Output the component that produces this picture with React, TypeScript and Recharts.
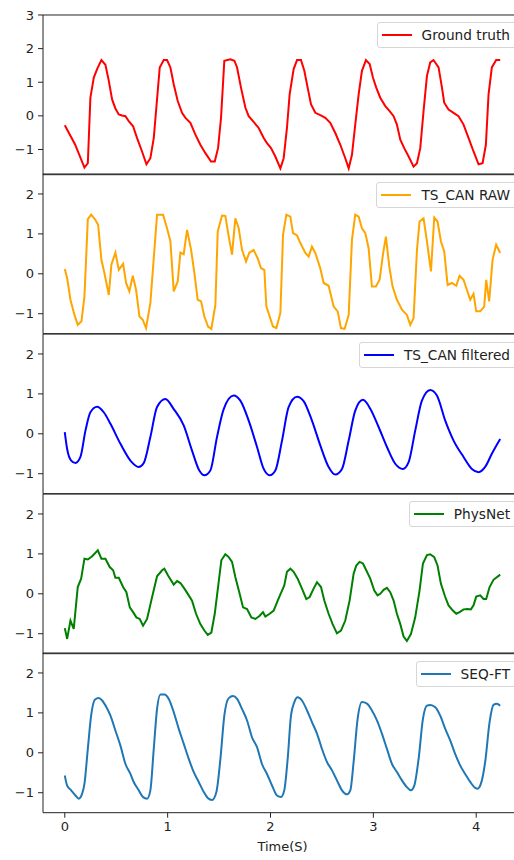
import React from 'react';
import { LineChart, Line, XAxis, YAxis, ReferenceArea, Legend } from 'recharts';

// time axis (s), 0 .. 4.233 with 5% margins
const T_MIN = -0.2117;
const T_MAX = 4.445;
const timeTicks = [0, 1, 2, 3, 4];

const groundTruth: number[][] = [
  [0, -0.28], [0.1, -0.85], [0.191, -1.54], [0.224, -1.41], [0.249, 0.54], [0.282, 1.14], [0.314, 1.39], [0.356, 1.66],
  [0.395, 1.52], [0.428, 1.04], [0.46, 0.49], [0.492, 0.22], [0.525, 0.04], [0.557, 0.01], [0.59, -0.01],
  [0.622, -0.16], [0.664, -0.31], [0.703, -0.66], [0.751, -1.06], [0.794, -1.44], [0.832, -1.26], [0.865, -0.66],
  [0.923, 1.44], [0.962, 1.66], [0.994, 1.66], [1.027, 1.44], [1.059, 0.94], [1.098, 0.44], [1.14, 0.09],
  [1.173, -0.06], [1.221, -0.21], [1.27, -0.56], [1.318, -0.86], [1.367, -1.11], [1.422, -1.36], [1.458, -1.36],
  [1.49, -0.96], [1.519, -0.06], [1.551, 1.64], [1.61, 1.68], [1.649, 1.64], [1.675, 1.44], [1.713, 0.84],
  [1.756, 0.24], [1.788, -0.01], [1.836, -0.18], [1.885, -0.36], [1.934, -0.66], [1.966, -0.81], [2.005, -0.96],
  [2.047, -1.21], [2.096, -1.56], [2.128, -1.26], [2.16, -0.36], [2.186, 0.64], [2.225, 1.39], [2.258, 1.66],
  [2.296, 1.66], [2.329, 1.34], [2.361, 0.84], [2.394, 0.34], [2.436, 0.09], [2.484, 0.02], [2.533, -0.06],
  [2.581, -0.21], [2.63, -0.51], [2.679, -0.86], [2.727, -1.26], [2.76, -1.56], [2.792, -1.16], [2.824, -0.26],
  [2.857, 0.64], [2.889, 1.34], [2.928, 1.66], [2.964, 1.54], [2.996, 1.14], [3.028, 0.84], [3.067, 0.54],
  [3.116, 0.29], [3.158, 0.14], [3.197, -0.01], [3.229, -0.26], [3.262, -0.71], [3.3, -0.96], [3.343, -1.21],
  [3.391, -1.51], [3.424, -1.41], [3.456, -0.96], [3.488, 0.14], [3.521, 1.19], [3.553, 1.59], [3.585, 1.66],
  [3.634, 1.44], [3.667, 0.84], [3.689, 0.39], [3.731, 0.19], [3.78, 0.09], [3.828, -0.01], [3.877, -0.26],
  [3.926, -0.66], [3.974, -1.06], [4.023, -1.44], [4.062, -1.41], [4.094, -0.86], [4.12, 0.64], [4.152, 1.44],
  [4.194, 1.66], [4.233, 1.66],
];

const tsCanRaw: number[][] = [
  [0, 0.12], [0.023, -0.11], [0.055, -0.65], [0.094, -1.03], [0.126, -1.28], [0.162, -1.19], [0.191, -0.57],
  [0.224, 1.37], [0.256, 1.48], [0.292, 1.37], [0.324, 1.23], [0.356, 0.35], [0.385, 0.02], [0.428, -0.53],
  [0.453, 0.23], [0.492, 0.53], [0.525, 0.1], [0.567, 0.25], [0.596, -0.23], [0.628, -0.44], [0.661, -0.05],
  [0.693, -0.4], [0.726, -1.07], [0.758, -1.15], [0.79, -1.36], [0.832, -0.73], [0.897, 1.48], [0.956, 1.48],
  [0.994, 1.14], [1.027, 0.81], [1.059, -0.44], [1.098, -0.19], [1.124, 0.53], [1.156, 0.49], [1.189, 1.1],
  [1.228, 0.6], [1.26, 0.02], [1.292, -0.65], [1.325, -0.69], [1.357, -1.07], [1.393, -1.32], [1.425, -1.38],
  [1.464, -0.78], [1.487, 1.06], [1.529, 1.46], [1.561, 1.45], [1.594, 0.93], [1.626, 0.48], [1.658, 1.39],
  [1.691, 1.14], [1.723, 0.6], [1.762, 0.31], [1.794, 0.53], [1.836, 0.6], [1.875, 0.39], [1.908, 0.14],
  [1.94, 0.1], [1.96, -0.82], [1.992, -1.07], [2.024, -1.32], [2.057, -1.36], [2.096, -0.98], [2.122, 0.98],
  [2.154, 1.48], [2.193, 1.43], [2.219, 1.02], [2.258, 0.96], [2.29, 0.77], [2.339, 0.52], [2.371, 0.43],
  [2.403, 0.68], [2.436, 0.52], [2.484, 0.14], [2.517, -0.23], [2.565, -0.3], [2.614, -0.82], [2.653, -0.94],
  [2.685, -1.36], [2.721, -1.38], [2.76, -1.03], [2.792, 0.85], [2.824, 1.48], [2.857, 1.43], [2.889, 1.14],
  [2.922, 1.02], [2.954, 0.64], [2.986, -0.32], [3.025, -0.32], [3.061, -0.15], [3.093, 0.48], [3.122, 0.93],
  [3.155, 0.18], [3.187, -0.32], [3.229, -0.65], [3.278, -0.9], [3.326, -1.03], [3.359, -1.28], [3.391, -1.11],
  [3.424, 0.6], [3.449, 1.31], [3.488, 1.39], [3.521, 0.81], [3.56, 0.06], [3.592, 1.41], [3.624, 1.31],
  [3.657, 0.81], [3.689, 0.56], [3.722, -0.28], [3.764, -0.23], [3.806, -0.3], [3.838, -0.05], [3.877, -0.15],
  [3.909, -0.4], [3.942, -0.65], [3.974, -0.5], [4.0, -0.94], [4.039, -0.94], [4.078, -0.82], [4.097, -0.15],
  [4.126, -0.69], [4.159, 0.35], [4.194, 0.73], [4.233, 0.52],
];

const tsCanFiltered: number[][] = [
  [0, 0.04], [0.023, -0.38], [0.062, -0.67], [0.104, -0.73], [0.152, -0.58], [0.201, 0.08], [0.249, 0.54],
  [0.314, 0.68], [0.379, 0.54], [0.444, 0.25], [0.541, -0.25], [0.638, -0.67], [0.719, -0.83], [0.768, -0.73],
  [0.832, -0.08], [0.897, 0.67], [0.978, 0.87], [1.059, 0.62], [1.156, 0.21], [1.237, -0.42], [1.308, -0.92],
  [1.357, -1.04], [1.415, -0.92], [1.48, -0.08], [1.545, 0.62], [1.642, 0.96], [1.707, 0.83], [1.788, 0.33],
  [1.869, -0.33], [1.934, -0.88], [1.992, -1.04], [2.047, -0.92], [2.112, -0.17], [2.176, 0.67], [2.258, 0.93],
  [2.322, 0.82], [2.403, 0.33], [2.484, -0.29], [2.565, -0.83], [2.63, -1.02], [2.695, -0.88], [2.76, -0.17],
  [2.824, 0.58], [2.899, 0.85], [2.97, 0.63], [3.051, 0.17], [3.132, -0.33], [3.213, -0.75], [3.287, -0.88],
  [3.343, -0.71], [3.407, 0.08], [3.472, 0.83], [3.553, 1.1], [3.618, 0.96], [3.699, 0.33], [3.78, -0.17],
  [3.877, -0.58], [3.958, -0.88], [4.023, -0.96], [4.087, -0.83], [4.152, -0.5], [4.233, -0.13],
];

const physNet: number[][] = [
  [0, -0.86], [0.023, -1.13], [0.055, -0.67], [0.087, -0.88], [0.126, 0.17], [0.159, 0.38], [0.191, 0.88],
  [0.224, 0.86], [0.266, 0.94], [0.321, 1.09], [0.356, 0.88], [0.395, 0.88], [0.437, 0.67], [0.47, 0.59],
  [0.492, 0.4], [0.525, 0.4], [0.567, 0.17], [0.599, 0.04], [0.632, -0.34], [0.664, -0.46], [0.696, -0.59],
  [0.729, -0.63], [0.761, -0.8], [0.8, -0.63], [0.849, -0.08], [0.897, 0.44], [0.946, 0.59], [0.968, 0.63],
  [1.004, 0.46], [1.059, 0.23], [1.092, 0.32], [1.124, 0.27], [1.163, 0.13], [1.205, -0.04], [1.237, -0.17],
  [1.276, -0.5], [1.318, -0.76], [1.357, -0.92], [1.39, -1.03], [1.425, -0.97], [1.458, -0.5], [1.496, 0.29],
  [1.522, 0.84], [1.561, 0.99], [1.594, 0.92], [1.626, 0.8], [1.658, 0.42], [1.7, 0.0], [1.733, -0.34],
  [1.772, -0.38], [1.814, -0.59], [1.853, -0.63], [1.895, -0.55], [1.927, -0.46], [1.95, -0.57], [1.992, -0.5],
  [2.031, -0.42], [2.07, -0.17], [2.112, 0.08], [2.134, 0.21], [2.16, 0.55], [2.193, 0.63], [2.225, 0.55],
  [2.264, 0.38], [2.306, 0.13], [2.348, -0.13], [2.381, -0.08], [2.419, 0.13], [2.452, 0.29], [2.491, 0.17],
  [2.523, -0.17], [2.565, -0.5], [2.604, -0.76], [2.646, -0.99], [2.685, -0.92], [2.727, -0.67], [2.769, -0.17],
  [2.808, 0.5], [2.834, 0.71], [2.866, 0.8], [2.899, 0.76], [2.931, 0.59], [2.97, 0.38], [3.009, 0.08],
  [3.041, -0.04], [3.067, 0.0], [3.1, 0.1], [3.132, 0.15], [3.164, 0.04], [3.197, -0.17], [3.229, -0.5],
  [3.262, -0.76], [3.294, -1.07], [3.326, -1.18], [3.365, -1.01], [3.407, -0.59], [3.449, 0.08], [3.482, 0.76],
  [3.521, 0.97], [3.553, 0.99], [3.592, 0.92], [3.624, 0.71], [3.657, 0.25], [3.699, -0.08], [3.731, -0.29],
  [3.773, -0.42], [3.806, -0.5], [3.838, -0.46], [3.877, -0.39], [3.916, -0.38], [3.948, -0.39], [3.974, -0.29],
  [4.0, -0.07], [4.039, -0.04], [4.071, -0.13], [4.097, -0.13], [4.13, 0.17], [4.168, 0.35], [4.233, 0.48],
];

const seqFt: number[][] = [
  [0, -0.57], [0.023, -0.82], [0.062, -0.94], [0.104, -1.07], [0.136, -1.15], [0.168, -1.03], [0.191, -0.78],
  [0.224, 0.1], [0.256, 0.93], [0.292, 1.33], [0.33, 1.37], [0.363, 1.31], [0.405, 1.14], [0.444, 0.93],
  [0.492, 0.56], [0.541, 0.18], [0.59, -0.28], [0.638, -0.53], [0.67, -0.73], [0.719, -0.94], [0.761, -1.11],
  [0.8, -1.15], [0.832, -0.94], [0.865, 0.1], [0.897, 1.1], [0.93, 1.46], [0.968, 1.46], [1.011, 1.35],
  [1.059, 1.02], [1.108, 0.6], [1.156, 0.23], [1.205, -0.15], [1.253, -0.48], [1.302, -0.73], [1.351, -0.98],
  [1.39, -1.13], [1.432, -1.18], [1.474, -0.98], [1.513, -0.15], [1.551, 0.93], [1.594, 1.37], [1.636, 1.42],
  [1.675, 1.35], [1.723, 1.1], [1.772, 0.81], [1.82, 0.39], [1.869, 0.14], [1.917, -0.28], [1.966, -0.53],
  [2.015, -0.82], [2.063, -1.07], [2.102, -1.11], [2.134, -0.94], [2.167, -0.15], [2.199, 0.93], [2.232, 1.27],
  [2.264, 1.39], [2.306, 1.31], [2.355, 1.06], [2.403, 0.77], [2.452, 0.48], [2.5, 0.1], [2.549, -0.23],
  [2.598, -0.44], [2.646, -0.69], [2.695, -0.94], [2.743, -1.04], [2.776, -0.94], [2.808, -0.23], [2.847, 0.85],
  [2.889, 1.27], [2.938, 1.23], [2.986, 1.06], [3.035, 0.81], [3.083, 0.48], [3.132, 0.1], [3.181, -0.28],
  [3.229, -0.48], [3.278, -0.69], [3.326, -0.86], [3.365, -0.94], [3.398, -0.82], [3.44, -0.15], [3.482, 0.85],
  [3.521, 1.18], [3.553, 1.2], [3.602, 1.14], [3.65, 0.93], [3.699, 0.6], [3.747, 0.31], [3.796, -0.03],
  [3.845, -0.32], [3.893, -0.53], [3.942, -0.73], [3.99, -0.88], [4.013, -0.9], [4.045, -0.78], [4.087, -0.23],
  [4.13, 0.77], [4.168, 1.2], [4.201, 1.23], [4.233, 1.18],
];

const topTicks = [-1, 0, 1, 2, 3];
const lowerTicks = [-1, 0, 1, 2];

const FONT = 'DejaVu Sans';
const W = 540;
const PLOT_H = 159.7;
const PAD_TOP = 10;
const panelTops = [14.5, 174.2, 333.9, 493.6, 653.3];

const panels = [
  { name: 'Ground truth', data: groundTruth, color: '#ff0000', domain: [-1.75, 3], ticks: topTicks, curve: 'linear' },
  { name: 'TS_CAN RAW', data: tsCanRaw, color: '#ffa500', domain: [-1.5, 2.5], ticks: lowerTicks, curve: 'linear' },
  { name: 'TS_CAN filtered', data: tsCanFiltered, color: '#0000ff', domain: [-1.5, 2.5], ticks: lowerTicks, curve: 'monotone' },
  { name: 'PhysNet', data: physNet, color: '#008000', domain: [-1.5, 2.5], ticks: lowerTicks, curve: 'linear' },
  { name: 'SEQ-FT', data: seqFt, color: '#1f77b4', domain: [-1.5, 2.5], ticks: lowerTicks, curve: 'monotone' },
];

const fmt = (v: number) => (v < 0 ? '\u2212' + Math.abs(v) : String(v));

const tickStyle = { fontSize: 13, fontFamily: FONT, fill: '#222' };

const LegendBox = ({ name, color }: { name: string; color: string }) => (
  <div
    style={{
      display: 'flex',
      alignItems: 'center',
      height: 24,
      padding: '0 6px 0 4px',
      border: '1px solid #d6d6d6',
      borderRadius: 3,
      background: 'rgba(255,255,255,0.8)',
      fontFamily: FONT,
      fontSize: 13.7,
      color: '#222',
      whiteSpace: 'nowrap',
    }}
  >
    <span style={{ display: 'inline-block', width: 30, height: 2, background: color, marginRight: 10 }} />
    <span>{name}</span>
  </div>
);

const App = () => {
  return (
    <div style={{ position: 'absolute', left: 0, top: 0, width: 514, height: 860, overflow: 'hidden', background: '#fff' }}>
      {panels.map((p, i) => {
        const last = i === panels.length - 1;
        const xAxisH = last ? 40 : 0;
        const bottom = last ? 0 : 5;
        const rows = p.data.map(([t, v]) => ({ t, v }));
        return (
          <div key={p.name} style={{ position: 'absolute', left: 0, top: panelTops[i] - PAD_TOP }}>
            <LineChart
              width={W}
              height={PAD_TOP + PLOT_H + xAxisH + bottom}
              data={rows}
              margin={{ top: PAD_TOP, right: 18, bottom, left: 0 }}
            >
              <XAxis
                dataKey="t"
                type="number"
                domain={[T_MIN, T_MAX]}
                allowDataOverflow
                ticks={timeTicks}
                interval={0}
                hide={!last}
                height={xAxisH}
                axisLine={false}
                tickSize={5}
                tickMargin={4}
                tickLine={{ stroke: '#222' }}
                tick={tickStyle}
                label={last ? { value: 'Time(S)', position: 'insideBottom', offset: 2, style: tickStyle } : undefined}
              />
              <YAxis
                type="number"
                domain={p.domain}
                allowDataOverflow
                ticks={p.ticks}
                interval={0}
                width={43}
                axisLine={false}
                tickSize={5}
                tickMargin={4}
                tickLine={{ stroke: '#222' }}
                tick={tickStyle}
                tickFormatter={fmt}
              />
              <ReferenceArea
                x1={T_MIN}
                x2={T_MAX}
                y1={p.domain[0]}
                y2={p.domain[1]}
                ifOverflow="visible"
                fill="none"
                fillOpacity={0}
                stroke="#222"
                strokeWidth={1}
              />
              <Line
                type={p.curve as 'linear' | 'monotone'}
                dataKey="v"
                stroke={p.color}
                strokeWidth={2}
                dot={false}
                isAnimationActive={false}
              />
              <Legend
                layout="horizontal"
                verticalAlign="middle"
                align="center"
                wrapperStyle={{ top: PAD_TOP + 7.8, right: W - 517, width: 'auto', left: 'auto' }}
                content={() => <LegendBox name={p.name} color={p.color} />}
              />
            </LineChart>
          </div>
        );
      })}
    </div>
  );
};

export default App;
